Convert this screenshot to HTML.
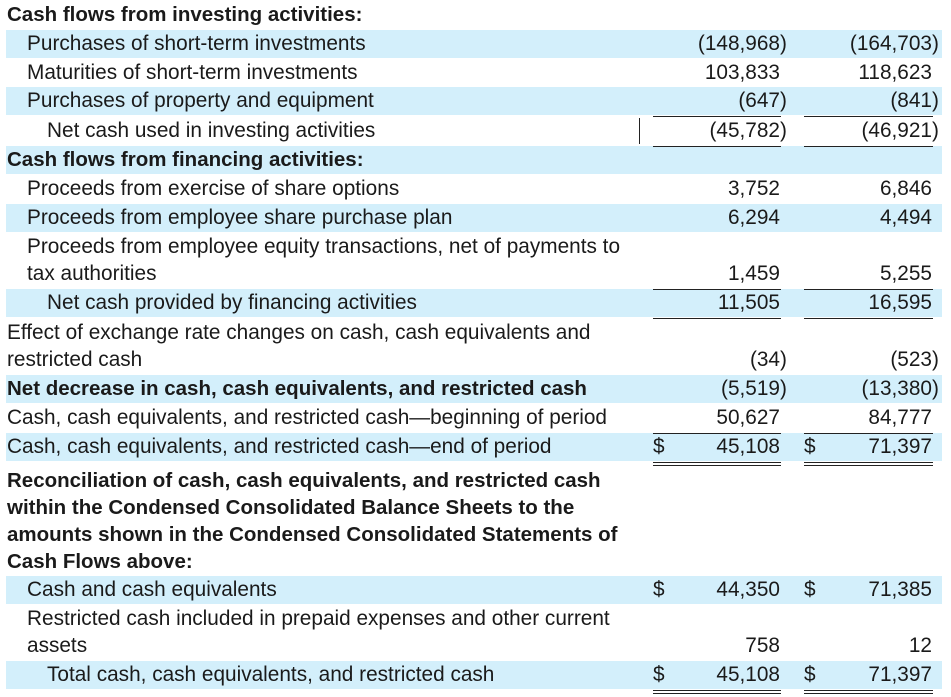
<!DOCTYPE html>
<html><head><meta charset="utf-8">
<style>
body{margin:0;width:951px;height:697px;background:#fff;position:relative;overflow:hidden;font-family:"Liberation Sans",sans-serif;font-size:20.8px;color:#1a1a1a}
.row{position:absolute;left:6px;width:936px;z-index:1}
.bg{background:#d3effb}
.lbl{position:absolute;line-height:27px;white-space:nowrap}
.b{font-weight:bold;font-size:20.5px}
.num{position:absolute;line-height:27px;white-space:nowrap}
.p{position:absolute;left:100%}
.ul{position:absolute;height:1px;background:#222;z-index:5}
.d{position:absolute;line-height:27px}
</style></head><body>
<div id="t"></div>
<script>
const rows=[
 {c:15,t:["Cash flows from investing activities:"],x:7,b:1,bg:0},
 {c:44,t:["Purchases of short-term investments"],x:27,bg:1,v:["(148,968)","(164,703)"]},
 {c:73,t:["Maturities of short-term investments"],x:27,bg:0,v:["103,833","118,623"]},
 {c:101,t:["Purchases of property and equipment"],x:27,bg:1,v:["(647)","(841)"],ul:1},
 {c:131,t:["Net cash used in investing activities"],x:47,bg:0,v:["(45,782)","(46,921)"],ul:1,bar:1},
 {c:160,t:["Cash flows from financing activities:"],x:7,b:1,bg:1},
 {c:189,t:["Proceeds from exercise of share options"],x:27,bg:0,v:["3,752","6,846"]},
 {c:218,t:["Proceeds from employee share purchase plan"],x:27,bg:1,v:["6,294","4,494"]},
 {c:260,t:["Proceeds from employee equity transactions, net of payments to","tax authorities"],x:27,bg:0,v:["1,459","5,255"],ul:1},
 {c:303,t:["Net cash provided by financing activities"],x:47,bg:1,v:["11,505","16,595"],ul:1},
 {c:346,t:["Effect of exchange rate changes on cash, cash equivalents and","restricted cash"],x:7,bg:0,v:["(34)","(523)"]},
 {c:389,t:["Net decrease in cash, cash equivalents, and restricted cash"],x:7,b:1,bg:1,v:["(5,519)","(13,380)"]},
 {c:418,t:["Cash, cash equivalents, and restricted cash\u2014beginning of period"],x:7,bg:0,v:["50,627","84,777"],ul:1},
 {c:447,t:["Cash, cash equivalents, and restricted cash\u2014end of period"],x:7,bg:1,v:["45,108","71,397"],dol:1,dbl:1},
 {c:521,t:["Reconciliation of cash, cash equivalents, and restricted cash","within the Condensed Consolidated Balance Sheets to the","amounts shown in the Condensed Consolidated Statements of","Cash Flows above:"],x:7,b:1,bg:0},
 {c:590,t:["Cash and cash equivalents"],x:27,bg:1,v:["44,350","71,385"],dol:1},
 {c:632,t:["Restricted cash included in prepaid expenses and other current","assets"],x:27,bg:0,v:["758","12"]},
 {c:675,t:["Total cash, cash equivalents, and restricted cash"],x:47,bg:1,v:["45,108","71,397"],dol:1,dbl:1}
];
const root=document.getElementById('t');
const colR=[780,932], colL=[653,804];
rows.forEach((r,i)=>{
 const n=r.t.length, h=n*27+1, top=r.c-h/2;
 const row=document.createElement('div');
 row.className='row'+(r.bg?' bg':'');
 row.style.top=top+'px';row.style.height=h+'px';
 
 
 root.appendChild(row);
 const l=document.createElement('div');
 l.className='lbl'+(r.b?' b':'');
 l.style.left=(r.x-6)+'px';l.style.top='0px';
 l.innerHTML=r.t.join('<br>');
 
 
 row.appendChild(l);
 if(r.v){
  r.v.forEach((v,k)=>{
   const s=document.createElement('div');
   s.className='num';
   const paren=v.endsWith(')');
   s.innerHTML=paren?v.slice(0,-1)+'<span class="p">)</span>':v;
   s.style.right=(942-colR[k])+'px';
   s.style.top=(h-28)+'px';
   
   
   row.appendChild(s);
   if(r.dol){
    const d=document.createElement('div');
    d.className='d';d.textContent='$';
    d.style.left=(colL[k]-6)+'px';d.style.top=(h-28)+'px';
    
    
    row.appendChild(d);
   }
   const lines=r.dbl?[1,4]:(r.ul?[1]:[]);
   lines.forEach(o=>{
    const u=document.createElement('div');
    u.className='ul';
    u.style.left=colL[k]+'px';u.style.width=(colR[k]-colL[k]+1)+'px';
    u.style.top=(top+h+o)+'px';
    
    
    root.appendChild(u);
   });
  });
 }
 if(r.bar){
  const b=document.createElement('div');
  b.className='ul';b.style.left='639px';b.style.width='1px';
  b.style.top='118px';b.style.height='26px';
  
  
  root.appendChild(b);
 }
});
</script>
</body></html>
